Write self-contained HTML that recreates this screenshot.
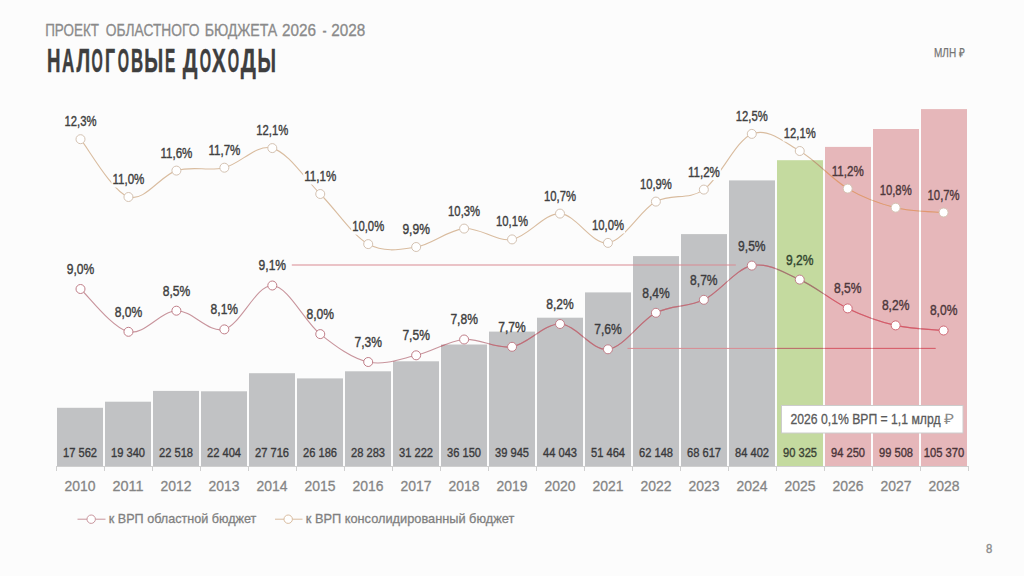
<!DOCTYPE html><html><head><meta charset="utf-8"><style>html,body{margin:0;padding:0;background:#fcfcfc;}svg{display:block;}text{font-family:"Liberation Sans",sans-serif;}</style></head><body>
<svg width="1024" height="576" viewBox="0 0 1024 576">
<rect width="1024" height="576" fill="#fcfcfc"/>
<text x="45.2" y="36.1" font-size="16" fill="#8a8a8a" stroke="#8a8a8a" stroke-width="0.3" textLength="53.7" lengthAdjust="spacingAndGlyphs">ПРОЕКТ</text>
<text x="105.8" y="36.1" font-size="16" fill="#8a8a8a" stroke="#8a8a8a" stroke-width="0.3" textLength="93.6" lengthAdjust="spacingAndGlyphs">ОБЛАСТНОГО</text>
<text x="204.7" y="36.1" font-size="16" fill="#8a8a8a" stroke="#8a8a8a" stroke-width="0.3" textLength="72.6" lengthAdjust="spacingAndGlyphs">БЮДЖЕТА</text>
<text x="282.0" y="36.1" font-size="16" fill="#8a8a8a" stroke="#8a8a8a" stroke-width="0.3" textLength="34.0" lengthAdjust="spacingAndGlyphs">2026</text>
<text x="322.4" y="36.1" font-size="16" fill="#8a8a8a" stroke="#8a8a8a" stroke-width="0.3" textLength="4.1" lengthAdjust="spacingAndGlyphs">-</text>
<text x="331.2" y="36.1" font-size="16" fill="#8a8a8a" stroke="#8a8a8a" stroke-width="0.3" textLength="34.0" lengthAdjust="spacingAndGlyphs">2028</text>
<text transform="translate(47.07,72.4) scale(0.565,1)" font-size="33" font-weight="bold" fill="#3e3e3e" stroke="#3e3e3e" stroke-width="0.5">Н</text>
<text transform="translate(61.89,72.4) scale(0.514,1)" font-size="33" font-weight="bold" fill="#3e3e3e" stroke="#3e3e3e" stroke-width="0.5">А</text>
<text transform="translate(76.40,72.4) scale(0.590,1)" font-size="33" font-weight="bold" fill="#3e3e3e" stroke="#3e3e3e" stroke-width="0.5">Л</text>
<text transform="translate(91.56,72.4) scale(0.439,1)" font-size="33" font-weight="bold" fill="#3e3e3e" stroke="#3e3e3e" stroke-width="0.5">О</text>
<text transform="translate(104.92,72.4) scale(0.537,1)" font-size="33" font-weight="bold" fill="#3e3e3e" stroke="#3e3e3e" stroke-width="0.5">Г</text>
<text transform="translate(117.66,72.4) scale(0.439,1)" font-size="33" font-weight="bold" fill="#3e3e3e" stroke="#3e3e3e" stroke-width="0.5">О</text>
<text transform="translate(131.08,72.4) scale(0.510,1)" font-size="33" font-weight="bold" fill="#3e3e3e" stroke="#3e3e3e" stroke-width="0.5">В</text>
<text transform="translate(144.23,72.4) scale(0.586,1)" font-size="33" font-weight="bold" fill="#3e3e3e" stroke="#3e3e3e" stroke-width="0.5">Ы</text>
<text transform="translate(164.96,72.4) scale(0.468,1)" font-size="33" font-weight="bold" fill="#3e3e3e" stroke="#3e3e3e" stroke-width="0.5">Е</text>
<text transform="translate(182.70,72.4) scale(0.626,1)" font-size="33" font-weight="bold" fill="#3e3e3e" stroke="#3e3e3e" stroke-width="0.5">Д</text>
<text transform="translate(199.76,72.4) scale(0.443,1)" font-size="33" font-weight="bold" fill="#3e3e3e" stroke="#3e3e3e" stroke-width="0.5">О</text>
<text transform="translate(212.08,72.4) scale(0.625,1)" font-size="33" font-weight="bold" fill="#3e3e3e" stroke="#3e3e3e" stroke-width="0.5">Х</text>
<text transform="translate(227.66,72.4) scale(0.443,1)" font-size="33" font-weight="bold" fill="#3e3e3e" stroke="#3e3e3e" stroke-width="0.5">О</text>
<text transform="translate(240.70,72.4) scale(0.643,1)" font-size="33" font-weight="bold" fill="#3e3e3e" stroke="#3e3e3e" stroke-width="0.5">Д</text>
<text transform="translate(257.56,72.4) scale(0.571,1)" font-size="33" font-weight="bold" fill="#3e3e3e" stroke="#3e3e3e" stroke-width="0.5">Ы</text>
<text x="934" y="57.2" font-size="12.5" fill="#747474" stroke="#747474" stroke-width="0.25" textLength="30.5" lengthAdjust="spacingAndGlyphs">МЛН ₽</text>
<rect x="57" y="407.8" width="46" height="58.2" fill="#c1c2c4"/>
<rect x="105" y="401.7" width="46" height="64.3" fill="#c1c2c4"/>
<rect x="153" y="390.9" width="46" height="75.1" fill="#c1c2c4"/>
<rect x="201" y="391.3" width="46" height="74.7" fill="#c1c2c4"/>
<rect x="249" y="373.2" width="46" height="92.8" fill="#c1c2c4"/>
<rect x="297" y="378.4" width="46" height="87.6" fill="#c1c2c4"/>
<rect x="345" y="371.3" width="46" height="94.7" fill="#c1c2c4"/>
<rect x="393" y="361.3" width="46" height="104.7" fill="#c1c2c4"/>
<rect x="441" y="344.5" width="46" height="121.5" fill="#c1c2c4"/>
<rect x="489" y="331.6" width="46" height="134.4" fill="#c1c2c4"/>
<rect x="537" y="317.7" width="46" height="148.3" fill="#c1c2c4"/>
<rect x="585" y="292.4" width="46" height="173.6" fill="#c1c2c4"/>
<rect x="633" y="256.1" width="46" height="209.9" fill="#c1c2c4"/>
<rect x="681" y="234.1" width="46" height="231.9" fill="#c1c2c4"/>
<rect x="729" y="180.4" width="46" height="285.6" fill="#c1c2c4"/>
<rect x="777" y="160.2" width="46" height="305.8" fill="#c4da9f"/>
<rect x="825" y="146.9" width="46" height="319.1" fill="#e6b7ba"/>
<rect x="873" y="129.0" width="46" height="337.0" fill="#e6b7ba"/>
<rect x="921" y="109.1" width="46" height="356.9" fill="#e6b7ba"/>
<rect x="56" y="466" width="913" height="1" fill="#cfcfcf"/>
<rect x="56" y="466" width="1" height="5" fill="#cfcfcf"/>
<rect x="104" y="466" width="1" height="5" fill="#cfcfcf"/>
<rect x="152" y="466" width="1" height="5" fill="#cfcfcf"/>
<rect x="200" y="466" width="1" height="5" fill="#cfcfcf"/>
<rect x="248" y="466" width="1" height="5" fill="#cfcfcf"/>
<rect x="296" y="466" width="1" height="5" fill="#cfcfcf"/>
<rect x="344" y="466" width="1" height="5" fill="#cfcfcf"/>
<rect x="392" y="466" width="1" height="5" fill="#cfcfcf"/>
<rect x="440" y="466" width="1" height="5" fill="#cfcfcf"/>
<rect x="488" y="466" width="1" height="5" fill="#cfcfcf"/>
<rect x="536" y="466" width="1" height="5" fill="#cfcfcf"/>
<rect x="584" y="466" width="1" height="5" fill="#cfcfcf"/>
<rect x="632" y="466" width="1" height="5" fill="#cfcfcf"/>
<rect x="680" y="466" width="1" height="5" fill="#cfcfcf"/>
<rect x="728" y="466" width="1" height="5" fill="#cfcfcf"/>
<rect x="776" y="466" width="1" height="5" fill="#cfcfcf"/>
<rect x="824" y="466" width="1" height="5" fill="#cfcfcf"/>
<rect x="872" y="466" width="1" height="5" fill="#cfcfcf"/>
<rect x="920" y="466" width="1" height="5" fill="#cfcfcf"/>
<rect x="968" y="466" width="1" height="5" fill="#cfcfcf"/>
<text x="63.0" y="456.5" font-size="12.5" fill="#3a3a3c" stroke="#3a3a3c" stroke-width="0.35" textLength="34.0" lengthAdjust="spacingAndGlyphs">17 562</text>
<text x="111.0" y="456.5" font-size="12.5" fill="#3a3a3c" stroke="#3a3a3c" stroke-width="0.35" textLength="34.0" lengthAdjust="spacingAndGlyphs">19 340</text>
<text x="159.0" y="456.5" font-size="12.5" fill="#3a3a3c" stroke="#3a3a3c" stroke-width="0.35" textLength="34.0" lengthAdjust="spacingAndGlyphs">22 518</text>
<text x="207.0" y="456.5" font-size="12.5" fill="#3a3a3c" stroke="#3a3a3c" stroke-width="0.35" textLength="34.0" lengthAdjust="spacingAndGlyphs">22 404</text>
<text x="255.0" y="456.5" font-size="12.5" fill="#3a3a3c" stroke="#3a3a3c" stroke-width="0.35" textLength="34.0" lengthAdjust="spacingAndGlyphs">27 716</text>
<text x="303.0" y="456.5" font-size="12.5" fill="#3a3a3c" stroke="#3a3a3c" stroke-width="0.35" textLength="34.0" lengthAdjust="spacingAndGlyphs">26 186</text>
<text x="351.0" y="456.5" font-size="12.5" fill="#3a3a3c" stroke="#3a3a3c" stroke-width="0.35" textLength="34.0" lengthAdjust="spacingAndGlyphs">28 283</text>
<text x="399.0" y="456.5" font-size="12.5" fill="#3a3a3c" stroke="#3a3a3c" stroke-width="0.35" textLength="34.0" lengthAdjust="spacingAndGlyphs">31 222</text>
<text x="447.0" y="456.5" font-size="12.5" fill="#3a3a3c" stroke="#3a3a3c" stroke-width="0.35" textLength="34.0" lengthAdjust="spacingAndGlyphs">36 150</text>
<text x="495.0" y="456.5" font-size="12.5" fill="#3a3a3c" stroke="#3a3a3c" stroke-width="0.35" textLength="34.0" lengthAdjust="spacingAndGlyphs">39 945</text>
<text x="543.0" y="456.5" font-size="12.5" fill="#3a3a3c" stroke="#3a3a3c" stroke-width="0.35" textLength="34.0" lengthAdjust="spacingAndGlyphs">44 043</text>
<text x="591.0" y="456.5" font-size="12.5" fill="#3a3a3c" stroke="#3a3a3c" stroke-width="0.35" textLength="34.0" lengthAdjust="spacingAndGlyphs">51 464</text>
<text x="639.0" y="456.5" font-size="12.5" fill="#3a3a3c" stroke="#3a3a3c" stroke-width="0.35" textLength="34.0" lengthAdjust="spacingAndGlyphs">62 148</text>
<text x="687.0" y="456.5" font-size="12.5" fill="#3a3a3c" stroke="#3a3a3c" stroke-width="0.35" textLength="34.0" lengthAdjust="spacingAndGlyphs">68 617</text>
<text x="735.0" y="456.5" font-size="12.5" fill="#3a3a3c" stroke="#3a3a3c" stroke-width="0.35" textLength="34.0" lengthAdjust="spacingAndGlyphs">84 402</text>
<text x="783.0" y="456.5" font-size="12.5" fill="#3a4234" stroke="#3a4234" stroke-width="0.35" textLength="34.0" lengthAdjust="spacingAndGlyphs">90 325</text>
<text x="831.0" y="456.5" font-size="12.5" fill="#4a3438" stroke="#4a3438" stroke-width="0.35" textLength="34.0" lengthAdjust="spacingAndGlyphs">94 250</text>
<text x="879.0" y="456.5" font-size="12.5" fill="#4a3438" stroke="#4a3438" stroke-width="0.35" textLength="34.0" lengthAdjust="spacingAndGlyphs">99 508</text>
<text x="923.8" y="456.5" font-size="12.5" fill="#4a3438" stroke="#4a3438" stroke-width="0.35" textLength="40.5" lengthAdjust="spacingAndGlyphs">105 370</text>
<text x="64.5" y="491.2" font-size="15.3" fill="#858585" stroke="#858585" stroke-width="0.3" textLength="31.0" lengthAdjust="spacingAndGlyphs">2010</text>
<text x="112.5" y="491.2" font-size="15.3" fill="#858585" stroke="#858585" stroke-width="0.3" textLength="31.0" lengthAdjust="spacingAndGlyphs">2011</text>
<text x="160.5" y="491.2" font-size="15.3" fill="#858585" stroke="#858585" stroke-width="0.3" textLength="31.0" lengthAdjust="spacingAndGlyphs">2012</text>
<text x="208.5" y="491.2" font-size="15.3" fill="#858585" stroke="#858585" stroke-width="0.3" textLength="31.0" lengthAdjust="spacingAndGlyphs">2013</text>
<text x="256.5" y="491.2" font-size="15.3" fill="#858585" stroke="#858585" stroke-width="0.3" textLength="31.0" lengthAdjust="spacingAndGlyphs">2014</text>
<text x="304.5" y="491.2" font-size="15.3" fill="#858585" stroke="#858585" stroke-width="0.3" textLength="31.0" lengthAdjust="spacingAndGlyphs">2015</text>
<text x="352.5" y="491.2" font-size="15.3" fill="#858585" stroke="#858585" stroke-width="0.3" textLength="31.0" lengthAdjust="spacingAndGlyphs">2016</text>
<text x="400.5" y="491.2" font-size="15.3" fill="#858585" stroke="#858585" stroke-width="0.3" textLength="31.0" lengthAdjust="spacingAndGlyphs">2017</text>
<text x="448.5" y="491.2" font-size="15.3" fill="#858585" stroke="#858585" stroke-width="0.3" textLength="31.0" lengthAdjust="spacingAndGlyphs">2018</text>
<text x="496.5" y="491.2" font-size="15.3" fill="#858585" stroke="#858585" stroke-width="0.3" textLength="31.0" lengthAdjust="spacingAndGlyphs">2019</text>
<text x="544.5" y="491.2" font-size="15.3" fill="#858585" stroke="#858585" stroke-width="0.3" textLength="31.0" lengthAdjust="spacingAndGlyphs">2020</text>
<text x="592.5" y="491.2" font-size="15.3" fill="#858585" stroke="#858585" stroke-width="0.3" textLength="31.0" lengthAdjust="spacingAndGlyphs">2021</text>
<text x="640.5" y="491.2" font-size="15.3" fill="#858585" stroke="#858585" stroke-width="0.3" textLength="31.0" lengthAdjust="spacingAndGlyphs">2022</text>
<text x="688.5" y="491.2" font-size="15.3" fill="#858585" stroke="#858585" stroke-width="0.3" textLength="31.0" lengthAdjust="spacingAndGlyphs">2023</text>
<text x="736.5" y="491.2" font-size="15.3" fill="#858585" stroke="#858585" stroke-width="0.3" textLength="31.0" lengthAdjust="spacingAndGlyphs">2024</text>
<text x="784.5" y="491.2" font-size="15.3" fill="#858585" stroke="#858585" stroke-width="0.3" textLength="31.0" lengthAdjust="spacingAndGlyphs">2025</text>
<text x="832.5" y="491.2" font-size="15.3" fill="#858585" stroke="#858585" stroke-width="0.3" textLength="31.0" lengthAdjust="spacingAndGlyphs">2026</text>
<text x="880.5" y="491.2" font-size="15.3" fill="#858585" stroke="#858585" stroke-width="0.3" textLength="31.0" lengthAdjust="spacingAndGlyphs">2027</text>
<text x="928.5" y="491.2" font-size="15.3" fill="#858585" stroke="#858585" stroke-width="0.3" textLength="31.0" lengthAdjust="spacingAndGlyphs">2028</text>
<defs><clipPath id="cg"><rect x="57" y="407.8" width="46" height="58.2"/><rect x="105" y="401.7" width="46" height="64.3"/><rect x="153" y="390.9" width="46" height="75.1"/><rect x="201" y="391.3" width="46" height="74.7"/><rect x="249" y="373.2" width="46" height="92.8"/><rect x="297" y="378.4" width="46" height="87.6"/><rect x="345" y="371.3" width="46" height="94.7"/><rect x="393" y="361.3" width="46" height="104.7"/><rect x="441" y="344.5" width="46" height="121.5"/><rect x="489" y="331.6" width="46" height="134.4"/><rect x="537" y="317.7" width="46" height="148.3"/><rect x="585" y="292.4" width="46" height="173.6"/><rect x="633" y="256.1" width="46" height="209.9"/><rect x="681" y="234.1" width="46" height="231.9"/><rect x="729" y="180.4" width="46" height="285.6"/></clipPath><clipPath id="cn"><rect x="777" y="160.2" width="46" height="305.8"/></clipPath><clipPath id="cp"><rect x="825" y="146.9" width="46" height="319.1"/><rect x="873" y="129.0" width="46" height="337.0"/><rect x="921" y="109.1" width="46" height="356.9"/></clipPath></defs>
<line x1="291.8" y1="265" x2="735.8" y2="265" stroke="#d98a92" stroke-width="1"/>
<line x1="627.5" y1="348.4" x2="935.6" y2="348.4" stroke="#d98a92" stroke-width="1"/>
<line x1="627.5" y1="348.4" x2="935.6" y2="348.4" stroke="#b87068" stroke-width="1" clip-path="url(#cn)"/>
<line x1="627.5" y1="348.4" x2="935.6" y2="348.4" stroke="#d85c6a" stroke-width="1" clip-path="url(#cp)"/>
<path d="M80.50,139.20 C88.49,148.83 112.47,191.77 128.45,197.00 C144.43,202.23 160.42,175.48 176.40,170.60 C192.38,165.72 208.37,171.45 224.35,167.70 C240.33,163.95 256.32,143.72 272.30,148.10 C288.28,152.48 304.27,178.00 320.25,194.00 C336.23,210.00 352.22,235.27 368.20,244.10 C384.18,252.93 400.17,249.58 416.15,247.00 C432.13,244.42 448.12,229.87 464.10,228.60 C480.08,227.33 496.07,241.90 512.05,239.40 C528.03,236.90 544.02,213.02 560.00,213.60 C575.98,214.18 591.97,244.90 607.95,242.90 C623.93,240.90 639.92,210.48 655.90,201.60 C671.88,192.72 687.87,200.88 703.85,189.60 C719.83,178.32 735.82,140.33 751.80,133.90 C767.78,127.47 783.77,141.88 799.75,151.00 C815.73,160.12 831.72,179.15 847.70,188.60 C863.68,198.05 879.67,203.72 895.65,207.70 C911.63,211.68 935.61,211.70 943.60,212.50" fill="none" stroke="#d9bc9f" stroke-width="1.1"/>
<path d="M80.50,139.20 C88.49,148.83 112.47,191.77 128.45,197.00 C144.43,202.23 160.42,175.48 176.40,170.60 C192.38,165.72 208.37,171.45 224.35,167.70 C240.33,163.95 256.32,143.72 272.30,148.10 C288.28,152.48 304.27,178.00 320.25,194.00 C336.23,210.00 352.22,235.27 368.20,244.10 C384.18,252.93 400.17,249.58 416.15,247.00 C432.13,244.42 448.12,229.87 464.10,228.60 C480.08,227.33 496.07,241.90 512.05,239.40 C528.03,236.90 544.02,213.02 560.00,213.60 C575.98,214.18 591.97,244.90 607.95,242.90 C623.93,240.90 639.92,210.48 655.90,201.60 C671.88,192.72 687.87,200.88 703.85,189.60 C719.83,178.32 735.82,140.33 751.80,133.90 C767.78,127.47 783.77,141.88 799.75,151.00 C815.73,160.12 831.72,179.15 847.70,188.60 C863.68,198.05 879.67,203.72 895.65,207.70 C911.63,211.68 935.61,211.70 943.60,212.50" fill="none" stroke="#b8a078" stroke-width="1.1" clip-path="url(#cn)"/>
<path d="M80.50,139.20 C88.49,148.83 112.47,191.77 128.45,197.00 C144.43,202.23 160.42,175.48 176.40,170.60 C192.38,165.72 208.37,171.45 224.35,167.70 C240.33,163.95 256.32,143.72 272.30,148.10 C288.28,152.48 304.27,178.00 320.25,194.00 C336.23,210.00 352.22,235.27 368.20,244.10 C384.18,252.93 400.17,249.58 416.15,247.00 C432.13,244.42 448.12,229.87 464.10,228.60 C480.08,227.33 496.07,241.90 512.05,239.40 C528.03,236.90 544.02,213.02 560.00,213.60 C575.98,214.18 591.97,244.90 607.95,242.90 C623.93,240.90 639.92,210.48 655.90,201.60 C671.88,192.72 687.87,200.88 703.85,189.60 C719.83,178.32 735.82,140.33 751.80,133.90 C767.78,127.47 783.77,141.88 799.75,151.00 C815.73,160.12 831.72,179.15 847.70,188.60 C863.68,198.05 879.67,203.72 895.65,207.70 C911.63,211.68 935.61,211.70 943.60,212.50" fill="none" stroke="#e39670" stroke-width="1.1" clip-path="url(#cp)"/>
<path d="M80.50,289.00 C88.49,296.13 112.47,328.18 128.45,331.80 C144.43,335.42 160.42,311.10 176.40,310.70 C192.38,310.30 208.37,333.60 224.35,329.40 C240.33,325.20 256.32,284.72 272.30,285.50 C288.28,286.28 304.27,321.35 320.25,334.10 C336.23,346.85 352.22,358.47 368.20,362.00 C384.18,365.53 400.17,359.05 416.15,355.30 C432.13,351.55 448.12,340.92 464.10,339.50 C480.08,338.08 496.07,349.38 512.05,346.80 C528.03,344.22 544.02,323.58 560.00,324.00 C575.98,324.42 591.97,351.17 607.95,349.30 C623.93,347.43 639.92,321.05 655.90,312.80 C671.88,304.55 687.87,307.67 703.85,299.80 C719.83,291.93 735.82,268.97 751.80,265.60 C767.78,262.23 783.77,272.47 799.75,279.60 C815.73,286.73 831.72,300.77 847.70,308.40 C863.68,316.03 879.67,321.72 895.65,325.40 C911.63,329.08 935.61,329.65 943.60,330.50" fill="none" stroke="#c8949c" stroke-width="1.1"/>
<path d="M80.50,289.00 C88.49,296.13 112.47,328.18 128.45,331.80 C144.43,335.42 160.42,311.10 176.40,310.70 C192.38,310.30 208.37,333.60 224.35,329.40 C240.33,325.20 256.32,284.72 272.30,285.50 C288.28,286.28 304.27,321.35 320.25,334.10 C336.23,346.85 352.22,358.47 368.20,362.00 C384.18,365.53 400.17,359.05 416.15,355.30 C432.13,351.55 448.12,340.92 464.10,339.50 C480.08,338.08 496.07,349.38 512.05,346.80 C528.03,344.22 544.02,323.58 560.00,324.00 C575.98,324.42 591.97,351.17 607.95,349.30 C623.93,347.43 639.92,321.05 655.90,312.80 C671.88,304.55 687.87,307.67 703.85,299.80 C719.83,291.93 735.82,268.97 751.80,265.60 C767.78,262.23 783.77,272.47 799.75,279.60 C815.73,286.73 831.72,300.77 847.70,308.40 C863.68,316.03 879.67,321.72 895.65,325.40 C911.63,329.08 935.61,329.65 943.60,330.50" fill="none" stroke="#be6e78" stroke-width="1.15" clip-path="url(#cg)"/>
<path d="M80.50,289.00 C88.49,296.13 112.47,328.18 128.45,331.80 C144.43,335.42 160.42,311.10 176.40,310.70 C192.38,310.30 208.37,333.60 224.35,329.40 C240.33,325.20 256.32,284.72 272.30,285.50 C288.28,286.28 304.27,321.35 320.25,334.10 C336.23,346.85 352.22,358.47 368.20,362.00 C384.18,365.53 400.17,359.05 416.15,355.30 C432.13,351.55 448.12,340.92 464.10,339.50 C480.08,338.08 496.07,349.38 512.05,346.80 C528.03,344.22 544.02,323.58 560.00,324.00 C575.98,324.42 591.97,351.17 607.95,349.30 C623.93,347.43 639.92,321.05 655.90,312.80 C671.88,304.55 687.87,307.67 703.85,299.80 C719.83,291.93 735.82,268.97 751.80,265.60 C767.78,262.23 783.77,272.47 799.75,279.60 C815.73,286.73 831.72,300.77 847.70,308.40 C863.68,316.03 879.67,321.72 895.65,325.40 C911.63,329.08 935.61,329.65 943.60,330.50" fill="none" stroke="#a07a6a" stroke-width="1.15" clip-path="url(#cn)"/>
<path d="M80.50,289.00 C88.49,296.13 112.47,328.18 128.45,331.80 C144.43,335.42 160.42,311.10 176.40,310.70 C192.38,310.30 208.37,333.60 224.35,329.40 C240.33,325.20 256.32,284.72 272.30,285.50 C288.28,286.28 304.27,321.35 320.25,334.10 C336.23,346.85 352.22,358.47 368.20,362.00 C384.18,365.53 400.17,359.05 416.15,355.30 C432.13,351.55 448.12,340.92 464.10,339.50 C480.08,338.08 496.07,349.38 512.05,346.80 C528.03,344.22 544.02,323.58 560.00,324.00 C575.98,324.42 591.97,351.17 607.95,349.30 C623.93,347.43 639.92,321.05 655.90,312.80 C671.88,304.55 687.87,307.67 703.85,299.80 C719.83,291.93 735.82,268.97 751.80,265.60 C767.78,262.23 783.77,272.47 799.75,279.60 C815.73,286.73 831.72,300.77 847.70,308.40 C863.68,316.03 879.67,321.72 895.65,325.40 C911.63,329.08 935.61,329.65 943.60,330.50" fill="none" stroke="#d85a68" stroke-width="1.15" clip-path="url(#cp)"/>
<circle cx="80.50" cy="139.20" r="4.5" fill="#fff" stroke="#d4c2b2" stroke-width="1"/>
<circle cx="80.50" cy="289.00" r="4.5" fill="#fff" stroke="#c07e88" stroke-width="1"/>
<circle cx="128.45" cy="197.00" r="4.5" fill="#fff" stroke="#d4c2b2" stroke-width="1"/>
<circle cx="128.45" cy="331.80" r="4.5" fill="#fff" stroke="#c07e88" stroke-width="1"/>
<circle cx="176.40" cy="170.60" r="4.5" fill="#fff" stroke="#d4c2b2" stroke-width="1"/>
<circle cx="176.40" cy="310.70" r="4.5" fill="#fff" stroke="#c07e88" stroke-width="1"/>
<circle cx="224.35" cy="167.70" r="4.5" fill="#fff" stroke="#d4c2b2" stroke-width="1"/>
<circle cx="224.35" cy="329.40" r="4.5" fill="#fff" stroke="#c07e88" stroke-width="1"/>
<circle cx="272.30" cy="148.10" r="4.5" fill="#fff" stroke="#d4c2b2" stroke-width="1"/>
<circle cx="272.30" cy="285.50" r="4.5" fill="#fff" stroke="#c07e88" stroke-width="1"/>
<circle cx="320.25" cy="194.00" r="4.5" fill="#fff" stroke="#d4c2b2" stroke-width="1"/>
<circle cx="320.25" cy="334.10" r="4.5" fill="#fff" stroke="#c07e88" stroke-width="1"/>
<circle cx="368.20" cy="244.10" r="4.5" fill="#fff" stroke="#d4c2b2" stroke-width="1"/>
<circle cx="368.20" cy="362.00" r="4.5" fill="#fff" stroke="#c07e88" stroke-width="1"/>
<circle cx="416.15" cy="247.00" r="4.5" fill="#fff" stroke="#d4c2b2" stroke-width="1"/>
<circle cx="416.15" cy="355.30" r="4.5" fill="#fff" stroke="#c07e88" stroke-width="1"/>
<circle cx="464.10" cy="228.60" r="4.5" fill="#fff" stroke="#d4c2b2" stroke-width="1"/>
<circle cx="464.10" cy="339.50" r="4.5" fill="#fff" stroke="#c07e88" stroke-width="1"/>
<circle cx="512.05" cy="239.40" r="4.5" fill="#fff" stroke="#d4c2b2" stroke-width="1"/>
<circle cx="512.05" cy="346.80" r="4.5" fill="#fff" stroke="#c07e88" stroke-width="1"/>
<circle cx="560.00" cy="213.60" r="4.5" fill="#fff" stroke="#d4c2b2" stroke-width="1"/>
<circle cx="560.00" cy="324.00" r="4.5" fill="#fff" stroke="#c07e88" stroke-width="1"/>
<circle cx="607.95" cy="242.90" r="4.5" fill="#fff" stroke="#d4c2b2" stroke-width="1"/>
<circle cx="607.95" cy="349.30" r="4.5" fill="#fff" stroke="#c07e88" stroke-width="1"/>
<circle cx="655.90" cy="201.60" r="4.5" fill="#fff" stroke="#d4c2b2" stroke-width="1"/>
<circle cx="655.90" cy="312.80" r="4.5" fill="#fff" stroke="#c07e88" stroke-width="1"/>
<circle cx="703.85" cy="189.60" r="4.5" fill="#fff" stroke="#d4c2b2" stroke-width="1"/>
<circle cx="703.85" cy="299.80" r="4.5" fill="#fff" stroke="#c07e88" stroke-width="1"/>
<circle cx="751.80" cy="133.90" r="4.5" fill="#fff" stroke="#d4c2b2" stroke-width="1"/>
<circle cx="751.80" cy="265.60" r="4.5" fill="#fff" stroke="#c07e88" stroke-width="1"/>
<circle cx="799.75" cy="151.00" r="4.5" fill="#fff" stroke="#d4c2b2" stroke-width="1"/>
<circle cx="799.75" cy="279.60" r="4.5" fill="#fff" stroke="#c07e88" stroke-width="1"/>
<circle cx="847.70" cy="188.60" r="4.5" fill="#fff" stroke="#d4c2b2" stroke-width="1"/>
<circle cx="847.70" cy="308.40" r="4.5" fill="#fff" stroke="#d06a76" stroke-width="1"/>
<circle cx="895.65" cy="207.70" r="4.5" fill="#fff" stroke="#d4c2b2" stroke-width="1"/>
<circle cx="895.65" cy="325.40" r="4.5" fill="#fff" stroke="#d06a76" stroke-width="1"/>
<circle cx="943.60" cy="212.50" r="4.5" fill="#fff" stroke="#d4c2b2" stroke-width="1"/>
<circle cx="943.60" cy="330.50" r="4.5" fill="#fff" stroke="#d06a76" stroke-width="1"/>
<rect x="63.5" y="115.7" width="34.0" height="14" fill="#fcfcfc"/>
<rect x="111.4" y="173.5" width="34.0" height="14" fill="#fcfcfc"/>
<rect x="159.4" y="147.1" width="34.0" height="14" fill="#fcfcfc"/>
<rect x="207.4" y="144.2" width="34.0" height="14" fill="#fcfcfc"/>
<rect x="255.3" y="124.6" width="34.0" height="14" fill="#fcfcfc"/>
<rect x="303.2" y="170.5" width="34.0" height="14" fill="#fcfcfc"/>
<rect x="351.2" y="220.6" width="34.0" height="14" fill="#fcfcfc"/>
<rect x="401.4" y="223.5" width="29.5" height="14" fill="#fcfcfc"/>
<rect x="447.1" y="205.1" width="34.0" height="14" fill="#fcfcfc"/>
<rect x="495.0" y="215.9" width="34.0" height="14" fill="#fcfcfc"/>
<rect x="543.0" y="190.1" width="34.0" height="14" fill="#fcfcfc"/>
<rect x="591.0" y="219.4" width="34.0" height="14" fill="#fcfcfc"/>
<rect x="638.9" y="178.1" width="34.0" height="14" fill="#fcfcfc"/>
<rect x="686.9" y="166.1" width="34.0" height="14" fill="#fcfcfc"/>
<rect x="734.8" y="110.4" width="34.0" height="14" fill="#fcfcfc"/>
<rect x="782.8" y="127.5" width="34.0" height="14" fill="#fcfcfc"/>
<text x="64.5" y="126.2" font-size="14.6" fill="#404040" stroke="#404040" stroke-width="0.4" textLength="32.0" lengthAdjust="spacingAndGlyphs">12,3%</text>
<text x="66.8" y="273.9" font-size="14.6" fill="#404040" stroke="#404040" stroke-width="0.4" textLength="27.5" lengthAdjust="spacingAndGlyphs">9,0%</text>
<text x="112.4" y="184.0" font-size="14.6" fill="#404040" stroke="#404040" stroke-width="0.4" textLength="32.0" lengthAdjust="spacingAndGlyphs">11,0%</text>
<text x="114.7" y="316.7" font-size="14.6" fill="#404040" stroke="#404040" stroke-width="0.4" textLength="27.5" lengthAdjust="spacingAndGlyphs">8,0%</text>
<text x="160.4" y="157.6" font-size="14.6" fill="#404040" stroke="#404040" stroke-width="0.4" textLength="32.0" lengthAdjust="spacingAndGlyphs">11,6%</text>
<text x="162.7" y="295.6" font-size="14.6" fill="#404040" stroke="#404040" stroke-width="0.4" textLength="27.5" lengthAdjust="spacingAndGlyphs">8,5%</text>
<text x="208.4" y="154.7" font-size="14.6" fill="#404040" stroke="#404040" stroke-width="0.4" textLength="32.0" lengthAdjust="spacingAndGlyphs">11,7%</text>
<text x="210.6" y="314.3" font-size="14.6" fill="#404040" stroke="#404040" stroke-width="0.4" textLength="27.5" lengthAdjust="spacingAndGlyphs">8,1%</text>
<text x="256.3" y="135.1" font-size="14.6" fill="#404040" stroke="#404040" stroke-width="0.4" textLength="32.0" lengthAdjust="spacingAndGlyphs">12,1%</text>
<text x="258.6" y="270.4" font-size="14.6" fill="#404040" stroke="#404040" stroke-width="0.4" textLength="27.5" lengthAdjust="spacingAndGlyphs">9,1%</text>
<text x="304.2" y="181.0" font-size="14.6" fill="#404040" stroke="#404040" stroke-width="0.4" textLength="32.0" lengthAdjust="spacingAndGlyphs">11,1%</text>
<text x="306.5" y="319.0" font-size="14.6" fill="#404040" stroke="#404040" stroke-width="0.4" textLength="27.5" lengthAdjust="spacingAndGlyphs">8,0%</text>
<text x="352.2" y="231.1" font-size="14.6" fill="#404040" stroke="#404040" stroke-width="0.4" textLength="32.0" lengthAdjust="spacingAndGlyphs">10,0%</text>
<text x="354.5" y="346.9" font-size="14.6" fill="#404040" stroke="#404040" stroke-width="0.4" textLength="27.5" lengthAdjust="spacingAndGlyphs">7,3%</text>
<text x="402.4" y="234.0" font-size="14.6" fill="#404040" stroke="#404040" stroke-width="0.4" textLength="27.5" lengthAdjust="spacingAndGlyphs">9,9%</text>
<text x="402.4" y="340.2" font-size="14.6" fill="#404040" stroke="#404040" stroke-width="0.4" textLength="27.5" lengthAdjust="spacingAndGlyphs">7,5%</text>
<text x="448.1" y="215.6" font-size="14.6" fill="#404040" stroke="#404040" stroke-width="0.4" textLength="32.0" lengthAdjust="spacingAndGlyphs">10,3%</text>
<text x="450.4" y="324.4" font-size="14.6" fill="#404040" stroke="#404040" stroke-width="0.4" textLength="27.5" lengthAdjust="spacingAndGlyphs">7,8%</text>
<text x="496.0" y="226.4" font-size="14.6" fill="#404040" stroke="#404040" stroke-width="0.4" textLength="32.0" lengthAdjust="spacingAndGlyphs">10,1%</text>
<text x="498.3" y="331.7" font-size="14.6" fill="#404040" stroke="#404040" stroke-width="0.4" textLength="27.5" lengthAdjust="spacingAndGlyphs">7,7%</text>
<text x="544.0" y="200.6" font-size="14.6" fill="#404040" stroke="#404040" stroke-width="0.4" textLength="32.0" lengthAdjust="spacingAndGlyphs">10,7%</text>
<text x="546.2" y="308.9" font-size="14.6" fill="#404040" stroke="#404040" stroke-width="0.4" textLength="27.5" lengthAdjust="spacingAndGlyphs">8,2%</text>
<text x="592.0" y="229.9" font-size="14.6" fill="#404040" stroke="#404040" stroke-width="0.4" textLength="32.0" lengthAdjust="spacingAndGlyphs">10,0%</text>
<text x="594.2" y="334.2" font-size="14.6" fill="#3c3c3e" stroke="#3c3c3e" stroke-width="0.4" textLength="27.5" lengthAdjust="spacingAndGlyphs">7,6%</text>
<text x="639.9" y="188.6" font-size="14.6" fill="#404040" stroke="#404040" stroke-width="0.4" textLength="32.0" lengthAdjust="spacingAndGlyphs">10,9%</text>
<text x="642.2" y="297.7" font-size="14.6" fill="#3c3c3e" stroke="#3c3c3e" stroke-width="0.4" textLength="27.5" lengthAdjust="spacingAndGlyphs">8,4%</text>
<text x="687.9" y="176.6" font-size="14.6" fill="#404040" stroke="#404040" stroke-width="0.4" textLength="32.0" lengthAdjust="spacingAndGlyphs">11,2%</text>
<text x="690.1" y="284.7" font-size="14.6" fill="#3c3c3e" stroke="#3c3c3e" stroke-width="0.4" textLength="27.5" lengthAdjust="spacingAndGlyphs">8,7%</text>
<text x="735.8" y="120.9" font-size="14.6" fill="#404040" stroke="#404040" stroke-width="0.4" textLength="32.0" lengthAdjust="spacingAndGlyphs">12,5%</text>
<text x="738.1" y="250.5" font-size="14.6" fill="#3c3c3e" stroke="#3c3c3e" stroke-width="0.4" textLength="27.5" lengthAdjust="spacingAndGlyphs">9,5%</text>
<text x="783.8" y="138.0" font-size="14.6" fill="#404040" stroke="#404040" stroke-width="0.4" textLength="32.0" lengthAdjust="spacingAndGlyphs">12,1%</text>
<text x="786.0" y="264.5" font-size="14.6" fill="#32462f" stroke="#32462f" stroke-width="0.4" textLength="27.5" lengthAdjust="spacingAndGlyphs">9,2%</text>
<text x="831.7" y="175.6" font-size="14.6" fill="#4e383c" stroke="#4e383c" stroke-width="0.4" textLength="32.0" lengthAdjust="spacingAndGlyphs">11,2%</text>
<text x="834.0" y="293.3" font-size="14.6" fill="#4e383c" stroke="#4e383c" stroke-width="0.4" textLength="27.5" lengthAdjust="spacingAndGlyphs">8,5%</text>
<text x="879.7" y="194.7" font-size="14.6" fill="#4e383c" stroke="#4e383c" stroke-width="0.4" textLength="32.0" lengthAdjust="spacingAndGlyphs">10,8%</text>
<text x="881.9" y="310.3" font-size="14.6" fill="#4e383c" stroke="#4e383c" stroke-width="0.4" textLength="27.5" lengthAdjust="spacingAndGlyphs">8,2%</text>
<text x="927.6" y="199.5" font-size="14.6" fill="#4e383c" stroke="#4e383c" stroke-width="0.4" textLength="32.0" lengthAdjust="spacingAndGlyphs">10,7%</text>
<text x="929.9" y="315.4" font-size="14.6" fill="#4e383c" stroke="#4e383c" stroke-width="0.4" textLength="27.5" lengthAdjust="spacingAndGlyphs">8,0%</text>
<rect x="781.5" y="405.5" width="181.5" height="27.5" fill="#ffffff" stroke="#cccccc" stroke-width="1"/>
<text x="790.5" y="424" font-size="14.5" fill="#5a5a5a" stroke="#5a5a5a" stroke-width="0.3" textLength="150" lengthAdjust="spacingAndGlyphs">2026 0,1% ВРП = 1,1 млрд</text>
<text x="944" y="424" font-size="14.5" fill="#8a8a8a" textLength="9.5" lengthAdjust="spacingAndGlyphs">₽</text>
<line x1="77.5" y1="519.2" x2="105.5" y2="519.2" stroke="#c8949c" stroke-width="1"/>
<circle cx="91.2" cy="519.2" r="4.2" fill="#fff" stroke="#c8949c" stroke-width="1"/>
<text x="108.8" y="523" font-size="13.5" fill="#808080" stroke="#808080" stroke-width="0.3" textLength="147.5" lengthAdjust="spacingAndGlyphs">к ВРП областной бюджет</text>
<line x1="275" y1="519.2" x2="302.5" y2="519.2" stroke="#d9bc9f" stroke-width="1"/>
<circle cx="288.2" cy="519.2" r="4.2" fill="#fff" stroke="#d9bc9f" stroke-width="1"/>
<text x="305.8" y="523" font-size="13.5" fill="#808080" stroke="#808080" stroke-width="0.3" textLength="208.5" lengthAdjust="spacingAndGlyphs">к ВРП консолидированный бюджет</text>
<text x="986" y="553.2" font-size="13" fill="#8c8c8c" stroke="#8c8c8c" stroke-width="0.4" textLength="6.3" lengthAdjust="spacingAndGlyphs">8</text>
</svg></body></html>
